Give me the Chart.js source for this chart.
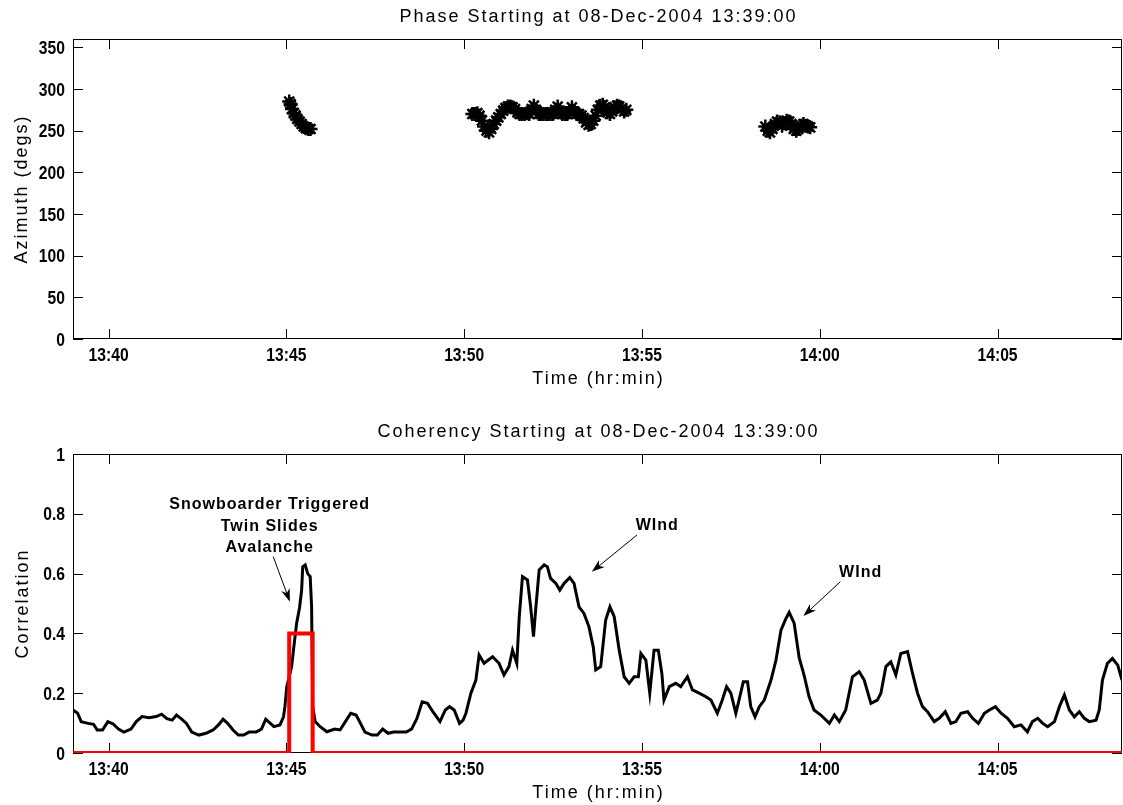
<!DOCTYPE html>
<html><head><meta charset="utf-8">
<script src="https://cdn.jsdelivr.net/npm/chart.js@4.4.1/dist/chart.umd.min.js"></script>
<style>
html,body{margin:0;padding:0;background:#fff;}
#wrap{position:relative;width:1123px;height:805px;background:#fff;}
canvas{position:absolute;left:0;}
</style></head><body>
<div id="wrap">
<canvas id="topChart" width="1123" height="400" style="top:0px"></canvas>
<canvas id="botChart" width="1123" height="405" style="top:400px"></canvas>
</div>
<script>
// ---------- DATA (time in minutes after 13:39:00) ----------
const phaseTitle = 'Phase Starting at 08-Dec-2004 13:39:00';
const coherTitle = 'Coherency Starting at 08-Dec-2004 13:39:00';
const xAxisTitle = 'Time (hr:min)';
const azAxisTitle = 'Azimuth (degs)';
const corrAxisTitle = 'Correlation';

const xTickMinutes = [1, 6, 11, 16, 21, 26];
const xTickLabels = ['13:40', '13:45', '13:50', '13:55', '14:00', '14:05'];
const azTickValues = [0, 50, 100, 150, 200, 250, 300, 350];
const azTickLabels = ['0', '50', '100', '150', '200', '250', '300', '350'];
const corrTickValues = [0, 0.2, 0.4, 0.6, 0.8, 1];
const corrTickLabels = ['0', '0.2', '0.4', '0.6', '0.8', '1'];

// Azimuth (phase) star markers
const azTimes = [
  6.08, 6.12, 6.16, 6.21, 6.26, 6.31, 6.37, 6.43, 6.49, 6.55, 6.62, 6.68,
  11.23, 11.30, 11.37, 11.43, 11.50, 11.56, 11.63, 11.70, 11.76, 11.83, 11.90, 11.96,
  12.03, 12.10, 12.16, 12.23, 12.30, 12.36, 12.43, 12.50, 12.56, 12.63, 12.70, 12.76,
  12.83, 12.90, 12.96, 13.03, 13.10, 13.16, 13.23, 13.30, 13.36, 13.43, 13.50, 13.56,
  13.63, 13.70, 13.76, 13.83, 13.90, 13.96, 14.03, 14.10, 14.16, 14.23, 14.30, 14.36,
  14.43, 14.50, 14.56, 14.63, 14.70, 14.76, 14.83, 14.90, 14.96, 15.03, 15.10, 15.16,
  15.23, 15.30, 15.36, 15.43, 15.50, 15.56,
  19.47, 19.54, 19.60, 19.67, 19.74, 19.80, 19.87, 19.94, 20.00, 20.07, 20.14, 20.20,
  20.27, 20.34, 20.40, 20.47, 20.54, 20.60, 20.67, 20.73
];
const azValues = [
  285, 282, 276, 271, 268, 264, 261, 258, 255, 253, 252, 252,
  270, 270, 271, 268, 262, 255, 250, 248, 252, 258, 262, 266,
  270, 274, 277, 279, 279, 278, 276, 272, 270, 270, 270, 271,
  270, 276, 280, 274, 270, 270, 270, 270, 270, 270, 270, 275,
  279, 272, 270, 270, 270, 272, 278, 273, 270, 270, 268, 265,
  260, 257, 258, 262, 268, 275, 280, 281, 278, 272, 270, 273,
  278, 280, 279, 276, 273, 275,
  255, 250, 248, 252, 258, 261, 260, 256, 259, 262, 261, 258,
  252, 250, 252, 256, 258, 256, 255, 254
];

// Coherency (correlation) trace
const corrTimes = [
  0.00, 0.13, 0.23, 0.43, 0.58, 0.68, 0.83, 0.98, 1.13, 1.28, 1.43, 1.63, 1.78, 1.94,
  2.14, 2.34, 2.49, 2.64, 2.79, 2.91, 3.04, 3.19, 3.34, 3.54, 3.74, 3.94, 4.09, 4.22,
  4.35, 4.50, 4.65, 4.80, 4.95, 5.15, 5.30, 5.42, 5.55, 5.65, 5.82, 5.92, 5.96, 6.01,
  6.15, 6.20, 6.29, 6.37, 6.43, 6.46, 6.53, 6.60, 6.67, 6.71, 6.74, 6.81, 6.95, 7.14,
  7.36, 7.51, 7.66, 7.81, 7.96, 8.06, 8.21, 8.41, 8.56, 8.71, 8.86, 9.02, 9.17, 9.37,
  9.52, 9.67, 9.82, 9.97, 10.12, 10.32, 10.47, 10.59, 10.72, 10.87, 10.97,
  11.05, 11.19, 11.33, 11.42, 11.56, 11.80, 11.98, 12.12, 12.26, 12.36, 12.48, 12.55,
  12.64, 12.78, 12.87, 12.95, 13.01, 13.11, 13.25, 13.34, 13.43, 13.58, 13.69, 13.81,
  13.97, 14.09, 14.23, 14.37, 14.51, 14.63, 14.70, 14.84, 14.98, 15.10, 15.22, 15.36,
  15.50, 15.64, 15.78, 15.90, 15.97, 16.11, 16.22, 16.34, 16.46, 16.56, 16.62, 16.77,
  16.95, 17.09, 17.28, 17.42, 17.61, 17.80, 17.94, 18.12, 18.26, 18.38, 18.50, 18.64,
  18.73, 18.85, 18.97, 19.06, 19.18, 19.30, 19.44, 19.63, 19.77, 19.91, 20.05, 20.14,
  20.28, 20.42, 20.56, 20.70, 20.84, 21.03, 21.27, 21.41, 21.55, 21.73, 21.92, 22.11,
  22.25, 22.44, 22.62, 22.72, 22.86, 23.00, 23.14, 23.28, 23.47, 23.61, 23.75, 23.89,
  24.03, 24.22, 24.36, 24.53, 24.69, 24.83, 24.97, 25.16, 25.30, 25.46, 25.63, 25.77,
  25.94, 26.10, 26.28, 26.47, 26.66, 26.84, 26.98, 27.13, 27.27, 27.41, 27.60, 27.74,
  27.88, 28.02, 28.16, 28.30, 28.44, 28.58, 28.77, 28.86, 28.95, 29.09, 29.23, 29.38, 29.50
];
const corrValues = [
  0.144, 0.133, 0.105, 0.099, 0.096, 0.077, 0.077, 0.105, 0.097, 0.080, 0.070, 0.080, 0.105, 0.122,
  0.118, 0.122, 0.130, 0.115, 0.110, 0.127, 0.115, 0.099, 0.070, 0.060, 0.066, 0.077, 0.094, 0.113,
  0.099, 0.077, 0.060, 0.060, 0.070, 0.070, 0.080, 0.113, 0.099, 0.088, 0.094, 0.121, 0.155, 0.220,
  0.290, 0.344, 0.435, 0.485, 0.545, 0.623, 0.629, 0.600, 0.590, 0.490, 0.155, 0.105, 0.088, 0.071,
  0.080, 0.077, 0.105, 0.133, 0.127, 0.105, 0.070, 0.060, 0.060, 0.080, 0.066, 0.070, 0.070, 0.070,
  0.080, 0.115, 0.171, 0.166, 0.138, 0.105, 0.144, 0.155, 0.144, 0.099, 0.110,
  0.133, 0.200, 0.244, 0.328, 0.300, 0.322, 0.300, 0.261, 0.289, 0.344, 0.300, 0.456,
  0.590, 0.579, 0.489, 0.389, 0.478, 0.612, 0.629, 0.623, 0.584, 0.567, 0.545, 0.567,
  0.587, 0.567, 0.489, 0.467, 0.422, 0.355, 0.278, 0.289, 0.445, 0.489, 0.456, 0.344,
  0.255, 0.233, 0.255, 0.255, 0.333, 0.311, 0.200, 0.344, 0.344, 0.266, 0.177, 0.222,
  0.233, 0.222, 0.255, 0.211, 0.200, 0.188, 0.177, 0.133, 0.177, 0.222, 0.200, 0.133,
  0.177, 0.238, 0.238, 0.155, 0.121, 0.155, 0.177, 0.244, 0.311, 0.411, 0.450, 0.470,
  0.434, 0.320, 0.260, 0.188, 0.144, 0.127, 0.099, 0.127, 0.105, 0.144, 0.255, 0.272,
  0.244, 0.166, 0.177, 0.200, 0.289, 0.305, 0.261, 0.333, 0.339, 0.266, 0.200, 0.155,
  0.138, 0.105, 0.116, 0.138, 0.099, 0.105, 0.133, 0.138, 0.116, 0.099, 0.133, 0.144,
  0.155, 0.133, 0.116, 0.088, 0.094, 0.071, 0.105, 0.116, 0.099, 0.088, 0.105, 0.155,
  0.194, 0.144, 0.121, 0.138, 0.116, 0.105, 0.110, 0.144, 0.244, 0.300, 0.316, 0.294, 0.244
];

// Event window (red box)
const eventTimes = [0, 6.08, 6.08, 6.74, 6.74, 29.5];
const eventValues = [0, 0, 0.4, 0.4, 0, 0];

// Annotations: label position (min, value) and arrows [tailX, tailY, tipX, tipY]
const snowLines = ['Snowboarder Triggered', 'Twin Slides', 'Avalanche'];
const snowLabelPos = [5.53, 0.816];
const snowArrow = [5.63, 0.657, 6.10, 0.506];
const windLabel = 'WInd';
const windLabelPos1 = [16.43, 0.746];
const windArrow1 = [15.86, 0.729, 14.59, 0.606];
const windLabelPos2 = [22.15, 0.588];
const windArrow2 = [21.58, 0.573, 20.54, 0.458];

// ---------- RENDERING ----------
const SANS = "'Liberation Sans',Arial,Helvetica,sans-serif";

function drawText(ctx, text, x, y, font, spacing, align, rot, sx) {
  ctx.save();
  ctx.font = font;
  ctx.fillStyle = '#000';
  ctx.textAlign = align || 'center';
  ctx.textBaseline = 'alphabetic';
  if ('letterSpacing' in ctx) ctx.letterSpacing = spacing + 'px';
  ctx.translate(x, y);
  if (rot) ctx.rotate(rot);
  if (sx) ctx.scale(sx, 1);
  ctx.fillText(text, 0, 0);
  if ('letterSpacing' in ctx) ctx.letterSpacing = '0px';
  ctx.restore();
}

function drawArrow(ctx, x1, y1, x2, y2) {
  const ang = Math.atan2(y2 - y1, x2 - x1);
  const L = 13, W = 4.5;
  ctx.save();
  ctx.strokeStyle = '#000';
  ctx.fillStyle = '#000';
  ctx.lineWidth = 1;
  ctx.beginPath();
  ctx.moveTo(x1, y1);
  ctx.lineTo(x2 - Math.cos(ang) * 8, y2 - Math.sin(ang) * 8);
  ctx.stroke();
  const bx = x2 - Math.cos(ang) * L, by = y2 - Math.sin(ang) * L;
  const nx = -Math.sin(ang), ny = Math.cos(ang);
  const mx = x2 - Math.cos(ang) * L * 0.7, my = y2 - Math.sin(ang) * L * 0.7;
  ctx.beginPath();
  ctx.moveTo(x2, y2);
  ctx.lineTo(bx + nx * W, by + ny * W);
  ctx.lineTo(mx, my);
  ctx.lineTo(bx - nx * W, by - ny * W);
  ctx.closePath();
  ctx.fill();
  ctx.restore();
}

function makeFramePlugin(cfg) {
  return {
    id: 'frame',
    beforeDatasetsDraw(chart) {
      const { ctx, chartArea: a, scales } = chart;
      ctx.save();
      ctx.strokeStyle = '#000';
      ctx.lineWidth = 1;
      ctx.strokeRect(Math.round(a.left) + 0.5, Math.round(a.top) + 0.5,
        Math.round(a.right) - Math.round(a.left) - 1, Math.round(a.bottom) - Math.round(a.top) - 1);
      ctx.beginPath();
      scales.x.ticks.forEach(t => {
        const px = Math.round(scales.x.getPixelForValue(t.value)) + 0.5;
        ctx.moveTo(px, a.bottom); ctx.lineTo(px, a.bottom - 10);
        ctx.moveTo(px, a.top); ctx.lineTo(px, a.top + 10);
      });
      scales.y.ticks.forEach(t => {
        const py = Math.round(scales.y.getPixelForValue(t.value)) + 0.5;
        ctx.moveTo(a.left, py); ctx.lineTo(a.left + 10, py);
        ctx.moveTo(a.right, py); ctx.lineTo(a.right - 10, py);
      });
      ctx.stroke();
      ctx.restore();
    },
    afterDraw(chart) {
      const { ctx, chartArea: a, scales } = chart;
      const cx = (a.left + a.right) / 2;
      const cy = (a.top + a.bottom) / 2;
      const tf = 'bold 18px ' + SANS;
      // tick labels (condensed bold, placed through the library scales)
      scales.x.ticks.forEach(t => {
        drawText(ctx, t.label, scales.x.getPixelForValue(t.value), a.bottom + cfg.xTickDrop, tf, 0, 'center', 0, 0.87);
      });
      scales.y.ticks.forEach(t => {
        drawText(ctx, t.label, a.left - 8, scales.y.getPixelForValue(t.value) + 6.5, tf, 0, 'right', 0, 0.87);
      });
      drawText(ctx, cfg.title, cx + 1, cfg.titleY, '18px ' + SANS, 2, 'center');
      drawText(ctx, cfg.xTitle, cx + 1, cfg.xTitleY, '18px ' + SANS, 2, 'center');
      drawText(ctx, cfg.yTitle, cfg.yTitleX, cy, '18px ' + SANS, 2, 'center', -Math.PI / 2);
      if (cfg.annotate) cfg.annotate(chart);
    }
  };
}

function axisOpts(min, max, values, labels, fitKey, fitVal) {
  return {
    type: 'linear', min: min, max: max,
    afterBuildTicks: s => { s.ticks = values.map(v => ({ value: v })); },
    afterFit: s => { s[fitKey] = fitVal; },
    grid: { display: false, drawTicks: false }, border: { display: false },
    ticks: { display: false, autoSkip: false, maxRotation: 0, callback: (v, i) => labels[i] }
  };
}

// Top chart: azimuth
new Chart(document.getElementById('topChart'), {
  type: 'scatter',
  data: {
    datasets: [{
      data: azTimes.map((t, i) => ({ x: t, y: azValues[i] })),
      pointStyle: 'star',
      pointRadius: 7,
      pointBorderWidth: 2.5,
      borderColor: '#000',
      backgroundColor: '#000',
      showLine: false
    }]
  },
  options: {
    responsive: false, animation: false, devicePixelRatio: 1,
    layout: { autoPadding: false, padding: { top: 39, right: 1, left: 0, bottom: 0 } },
    plugins: { legend: { display: false }, tooltip: { enabled: false } },
    scales: {
      x: axisOpts(0, 29.5, xTickMinutes, xTickLabels, 'height', 61),
      y: axisOpts(0, 360, azTickValues, azTickLabels, 'width', 73)
    }
  },
  plugins: [makeFramePlugin({ title: phaseTitle, titleY: 22, xTitle: xAxisTitle, xTitleY: 384,
    yTitle: azAxisTitle, yTitleX: 27, xTickDrop: 22 })]
});

// Bottom chart: coherency
function annotateCoherency(chart) {
  const { ctx, scales } = chart;
  const X = v => scales.x.getPixelForValue(v), Y = v => scales.y.getPixelForValue(v);
  const f = 'bold 16px ' + SANS;
  const lh = 21.5;
  snowLines.forEach((s, i) => drawText(ctx, s, X(snowLabelPos[0]), Y(snowLabelPos[1]) + i * lh, f, 1, 'center'));
  drawArrow(ctx, X(snowArrow[0]), Y(snowArrow[1]), X(snowArrow[2]), Y(snowArrow[3]));
  drawText(ctx, windLabel, X(windLabelPos1[0]), Y(windLabelPos1[1]), f, 1, 'center');
  drawArrow(ctx, X(windArrow1[0]), Y(windArrow1[1]), X(windArrow1[2]), Y(windArrow1[3]));
  drawText(ctx, windLabel, X(windLabelPos2[0]), Y(windLabelPos2[1]), f, 1, 'center');
  drawArrow(ctx, X(windArrow2[0]), Y(windArrow2[1]), X(windArrow2[2]), Y(windArrow2[3]));
}

new Chart(document.getElementById('botChart'), {
  type: 'line',
  data: {
    datasets: [
      {
        data: eventTimes.map((t, i) => ({ x: t, y: eventValues[i] })),
        borderColor: '#ff0000', borderWidth: 4, pointRadius: 0, tension: 0, fill: false, clip: 0,
        borderJoinStyle: 'miter'
      },
      {
        data: corrTimes.map((t, i) => ({ x: t, y: corrValues[i] })),
        borderColor: '#000', borderWidth: 3, pointRadius: 0, tension: 0, fill: false, clip: 0
      }
    ]
  },
  options: {
    responsive: false, animation: false, devicePixelRatio: 1,
    layout: { autoPadding: false, padding: { top: 54, right: 1, left: 0, bottom: 0 } },
    plugins: { legend: { display: false }, tooltip: { enabled: false } },
    scales: {
      x: axisOpts(0, 29.5, xTickMinutes, xTickLabels, 'height', 52),
      y: axisOpts(0, 1, corrTickValues, corrTickLabels, 'width', 73)
    }
  },
  plugins: [makeFramePlugin({ title: coherTitle, titleY: 37, xTitle: xAxisTitle, xTitleY: 398,
    yTitle: corrAxisTitle, yTitleX: 28, xTickDrop: 22, annotate: annotateCoherency })]
});
</script>
</body></html>
